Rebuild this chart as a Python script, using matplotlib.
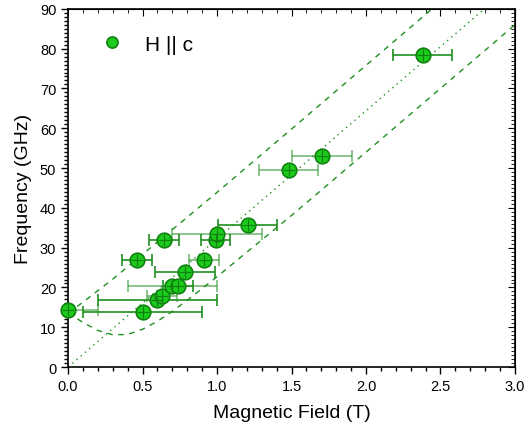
import numpy as np
from matplotlib import pyplot as plt
from matplotlib.ticker import MultipleLocator

plt.rcParams['font.family'] = ['Liberation Sans', 'DejaVu Sans']

# dane pomiarowe H || c
pole = [0.0, 0.5, 0.6, 0.63, 0.70, 0.74, 0.785, 0.915, 0.46, 0.645, 0.99, 1.0, 1.205, 1.48, 1.705, 2.38]
czest = [14.3, 13.8, 16.8, 17.9, 20.3, 20.3, 23.9, 26.9, 26.9, 31.8, 31.8, 33.5, 35.7, 49.5, 53.1, 78.3]
blad_pola = [0.2, 0.4, 0.4, 0.1, 0.3, 0.1, 0.2, 0.1, 0.1, 0.1, 0.1, 0.3, 0.2, 0.2, 0.2, 0.2]
przezr = [0.6, 1.0, 1.0, 0.6, 0.6, 1.0, 1.0, 0.6, 1.0, 1.0, 1.0, 0.6, 1.0, 0.6, 0.6, 1.0]

# linie teoretyczne
B_prosta = [0.0, 3.0]
f_prosta = [0.0, 96.6]
B_gora = [0.0, 0.1, 0.2, 0.3, 0.5, 1.0, 1.5, 2.0, 2.5]
f_gora = [13.6, 16.3, 19.2, 22.1, 28.3, 43.9, 59.8, 75.8, 91.8]
B_dol = [0.0, 0.1, 0.2, 0.3, 0.4, 0.5, 0.6, 0.7, 0.8, 1.0, 1.5, 2.0, 2.5, 3.0]
f_dol = [13.6, 11.2, 9.2, 8.1, 8.2, 9.5, 11.5, 14.0, 16.8, 22.7, 38.1, 54.0, 70.0, 86.0]

ziel = '#1f8f1f'

fig = plt.figure(figsize=(5.32, 4.27), dpi=100)
ax = fig.add_axes([0.128, 0.138, 0.84, 0.839])

ax.plot(B_prosta, f_prosta, ls=(0, (1, 3)), c=ziel, lw=1)
ax.plot(B_gora, f_gora, ls=(0, (4, 4)), c=ziel, lw=1)
ax.plot(B_dol, f_dol, ls=(0, (4, 4)), c=ziel, lw=1)

for x, y, e, a in zip(pole, czest, blad_pola, przezr):
    ax.errorbar(x, y, xerr=e, fmt='none', ecolor=ziel, alpha=a, elinewidth=1.2, capsize=4, capthick=1.2, zorder=3)

ax.plot(pole, czest, 'o', ms=10.5, mfc='#1ccc1c', mec='#108010', mew=1.2, ls='none', zorder=4, clip_on=False)
ax.plot(pole, czest, '+', ms=9, mec='#108010', mew=0.9, ls='none', zorder=5, clip_on=False)

# legenda
leg_h, = ax.plot([], [], 'o', ms=8, mfc='#1ccc1c', mec='#108010', mew=1.2, ls='none')
ax.legend([leg_h], ['H || c'], loc='upper left', frameon=False, fontsize=15,
          bbox_to_anchor=(0.032, 0.98), handlelength=1.0, handletextpad=1.1)

ax.set_xlim(0, 3)
ax.set_ylim(0, 90)
ax.xaxis.set_major_locator(MultipleLocator(0.5))
ax.xaxis.set_minor_locator(MultipleLocator(0.1))
ax.yaxis.set_major_locator(MultipleLocator(10))
ax.yaxis.set_minor_locator(MultipleLocator(1))
ax.xaxis.set_major_formatter(plt.FuncFormatter(lambda v, p: '%.1f' % v))
ax.tick_params(which='both', direction='out', labelsize=10.5, width=1)
ax.tick_params(which='major', length=5)
ax.tick_params(which='minor', length=3)
for s in ax.spines.values():
    s.set_linewidth(1.2)

top = ax.secondary_xaxis('top')
top.xaxis.set_major_locator(MultipleLocator(0.5))
top.xaxis.set_minor_locator(MultipleLocator(0.1))
top.tick_params(which='both', direction='in', labeltop=False)
top.tick_params(which='major', length=5)
top.tick_params(which='minor', length=3)
right = ax.secondary_yaxis('right')
right.yaxis.set_major_locator(MultipleLocator(10))
right.yaxis.set_minor_locator(MultipleLocator(1))
right.tick_params(which='both', direction='in', labelright=False)
right.tick_params(which='major', length=5)
right.tick_params(which='minor', length=3)

ax.set_xlabel('Magnetic Field (T)', fontsize=14, labelpad=8)
ax.set_ylabel('Frequency (GHz)', fontsize=14, labelpad=6)

plt.savefig('out.png', dpi=100)
